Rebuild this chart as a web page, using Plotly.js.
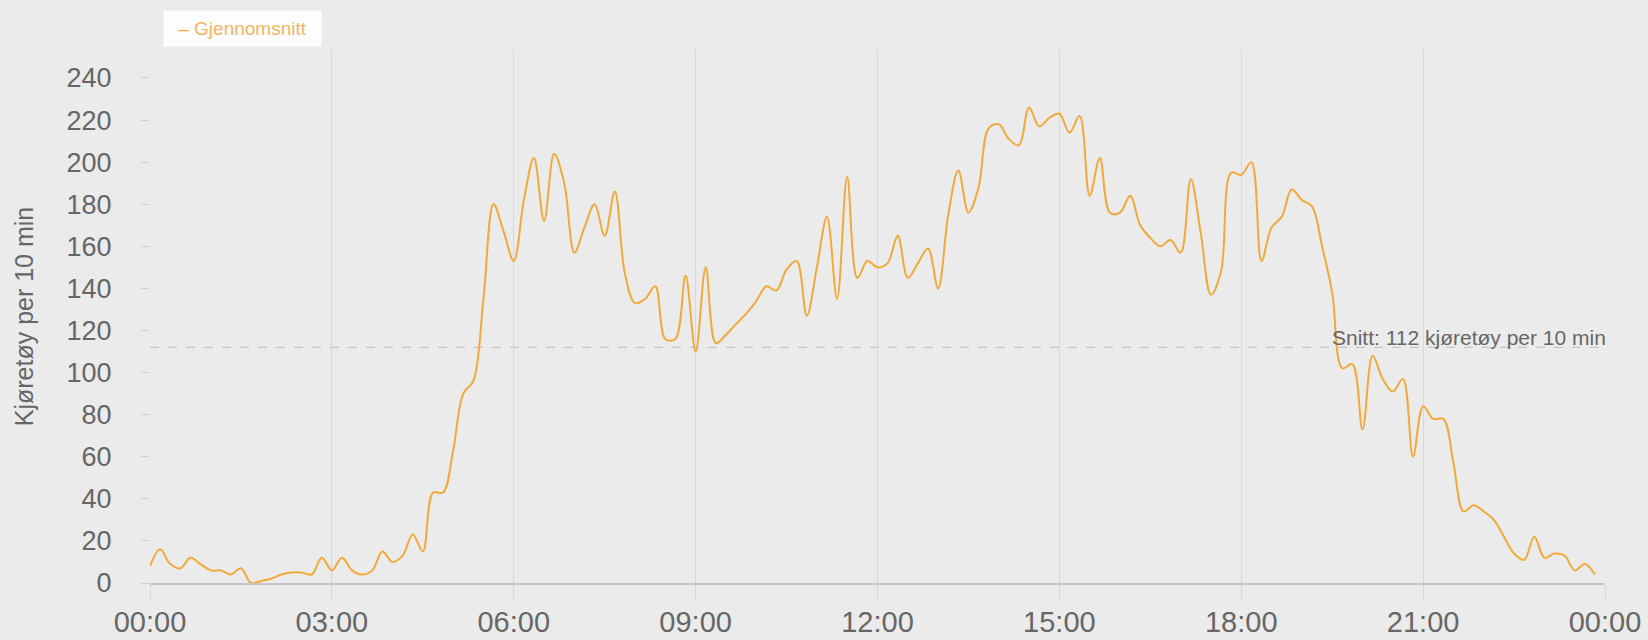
<!DOCTYPE html>
<html>
<head>
<meta charset="utf-8">
<script src="https://cdn.plot.ly/plotly-3.0.1.min.js"></script>
<style>
  html, body { margin: 0; padding: 0; background: #ebebeb; }
  #chart { width: 1648px; height: 640px; }
</style>
</head>
<body>
<div id="chart"></div>
<script>
// ---- data ----
const stepMinutes = 10;
const seriesName = 'Gjennomsnitt';
const vehicles = [
  8, 16, 9, 7, 12, 9, 6, 6, 4, 7, 0, 1,
  2, 4, 5, 5, 4, 12, 6, 12, 6, 4, 6, 15,
  10, 13, 23, 15, 43, 43, 63, 90, 96, 135, 180, 167,
  153, 182, 202, 172, 204, 190, 157, 169, 180, 165, 186, 147,
  133, 135, 141, 116, 116, 146, 110, 150, 114, 118, 123, 128,
  134, 141, 139, 149, 153, 127, 150, 174, 135, 193, 145, 153,
  150, 152, 165, 145, 152, 159, 140, 175, 196, 176, 188, 216,
  218, 211, 208, 226, 217, 221, 223, 214, 222, 184, 202, 176,
  176, 184, 170, 164, 160, 163, 157, 192, 166, 137, 148, 195,
  194, 200, 153, 169, 174, 187, 182, 179, 160, 138, 102, 104,
  73, 108, 97, 91, 97, 60, 84, 78, 78, 57, 34, 37,
  34, 30, 22, 14, 11, 22, 12, 14, 13, 6, 9, 4
];
const averageValue = 112;
const averageLabel = 'Snitt: 112 kjøretøy per 10 min';
const yTitle = 'Kjøretøy per 10 min';
const yTicks = [0, 20, 40, 60, 80, 100, 120, 140, 160, 180, 200, 220, 240];
const xTickHours = [0, 3, 6, 9, 12, 15, 18, 21, 24];
const xTickLabels = ['00:00', '03:00', '06:00', '09:00', '12:00', '15:00', '18:00', '21:00', '00:00'];

// ---- build time axis ----
function stamp(totalMinutes) {
  const d = new Date(Date.UTC(2024, 0, 1, 0, 0, 0) + totalMinutes * 60000);
  const p = n => String(n).padStart(2, '0');
  return d.getUTCFullYear() + '-' + p(d.getUTCMonth() + 1) + '-' + p(d.getUTCDate()) + ' ' + p(d.getUTCHours()) + ':' + p(d.getUTCMinutes());
}
const times = vehicles.map((_, i) => stamp(i * stepMinutes));
const xTickVals = xTickHours.map(h => stamp(h * 60));
const xStart = stamp(0), xEnd = stamp(24 * 60);

const W = 1648, H = 640;
const M = { l: 150, r: 43, t: 50, b: 57 };
const plotW = W - M.l - M.r, plotH = H - M.t - M.b;
const font = 'Liberation Sans, Arial, Helvetica, sans-serif';
const lineColor = '#f2a93b';

const trace = {
  type: 'scatter',
  mode: 'lines',
  name: seriesName,
  x: times,
  y: vehicles,
  line: { color: lineColor, width: 2, shape: 'spline', smoothing: 1 },
  hoverinfo: 'x+y'
};

const layout = {
  width: W, height: H,
  margin: { l: M.l, r: M.r, t: M.t, b: M.b, pad: 0 },
  paper_bgcolor: '#ebebeb',
  plot_bgcolor: '#ebebeb',
  font: { family: font, color: '#666666' },
  showlegend: false,
  xaxis: {
    type: 'date',
    range: [xStart, xEnd],
    tickmode: 'array',
    tickvals: xTickVals,
    ticktext: xTickLabels,
    showgrid: true,
    gridcolor: '#d8d8d8',
    gridwidth: 1,
    ticks: 'outside',
    ticklen: 14,
    tickcolor: '#d8d8d8',
    tickwidth: 1,
    showline: true,
    linecolor: '#c6c6c6',
    linewidth: 1.5,
    zeroline: false,
    tickfont: { family: font, size: 29, color: '#666666' },
    ticklabelstandoff: -1,
    fixedrange: true
  },
  yaxis: {
    range: [0, 253.3],
    tickmode: 'array',
    tickvals: yTicks,
    showgrid: false,
    zeroline: false,
    showline: false,
    ticks: 'outside',
    ticklen: 8,
    tickcolor: '#cccccc',
    tickwidth: 1,
    tickfont: { family: font, size: 27, color: '#666666' },
    ticklabelstandoff: 24,
    title: { text: yTitle, font: { family: font, size: 25, color: '#666666' }, standoff: 25 },
    fixedrange: true
  },
  shapes: [{
    type: 'line', xref: 'x', yref: 'y',
    x0: xStart, x1: xEnd, y0: averageValue, y1: averageValue,
    line: { color: '#bdbdbd', width: 1, dash: 'dash' },
    layer: 'below'
  }],
  annotations: [{
    xref: 'x', yref: 'y',
    x: xEnd, y: averageValue,
    xanchor: 'right', yanchor: 'bottom',
    text: averageLabel,
    showarrow: false,
    font: { family: font, size: 21, color: '#666666' },
    xshift: 3,
    yshift: -4
  }, {
    // legend box
    xref: 'paper', yref: 'paper',
    x: (163 - M.l) / plotW, y: 1 + (M.t - 10) / plotH,
    xanchor: 'left', yanchor: 'top',
    width: 157, height: 35, borderpad: 0,
    align: 'center', valign: 'middle',
    bgcolor: 'rgba(255,255,255,0.9)',
    showarrow: false,
    text: '<span style="color:' + lineColor + '">–</span> ' + seriesName,
    font: { family: font, size: 19, color: '#f4b560' }
  }]
};

Plotly.newPlot('chart', [trace], layout, { displayModeBar: false, staticPlot: true });
</script>
</body>
</html>
